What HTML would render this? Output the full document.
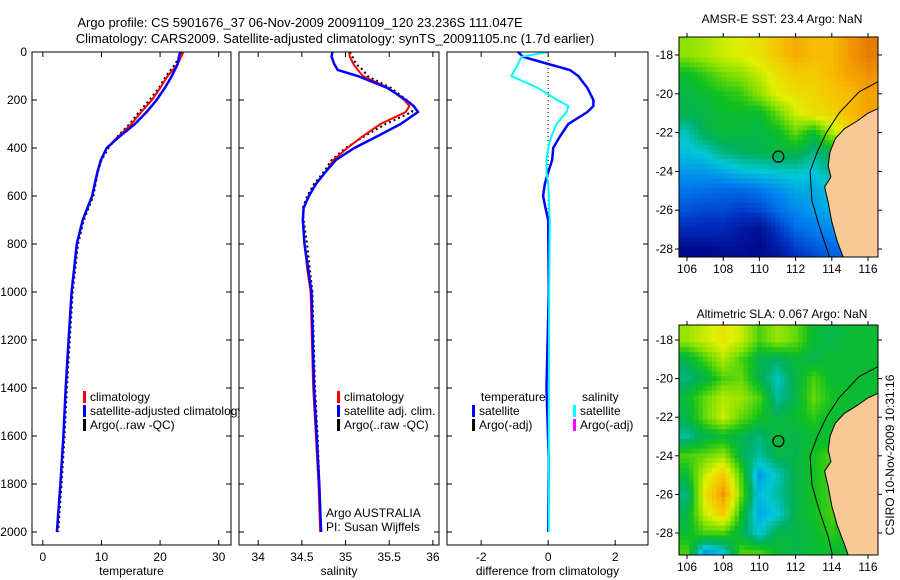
<!DOCTYPE html>
<html><head><meta charset="utf-8"><style>
body{margin:0;background:#fff;}
svg{display:block;font-family:"Liberation Sans",sans-serif;}
</style></head><body>
<svg id="fig" width="900" height="580" viewBox="0 0 900 580">
<rect width="900" height="580" fill="#fff"/>
<text x="300" y="27" font-size="13" text-anchor="middle">Argo profile: CS 5901676_37 06-Nov-2009 20091109_120 23.236S 111.047E</text>
<text x="335" y="43" font-size="13" text-anchor="middle">Climatology: CARS2009. Satellite-adjusted climatology: synTS_20091105.nc (1.7d earlier)</text>
<text x="782" y="23" font-size="12" text-anchor="middle">AMSR-E SST: 23.4 Argo: NaN</text>
<text x="782" y="318" font-size="12" text-anchor="middle">Altimetric SLA: 0.067 Argo: NaN</text>
<text x="894" y="455" font-size="12" text-anchor="middle" transform="rotate(-90 894 455)">CSIRO 10-Nov-2009 10:31:16</text>
<g id="panels"></g>
</svg>
<script>
// ---- profile data ----
const tDepth = [0,50,100,150,200,250,300,350,400,450,500,600,700,800,1000,1200,1400,1600,1800,2000];
const tClim  = [24.0,23.0,21.3,20.0,18.6,16.8,15.1,13.0,10.9,9.9,9.3,8.4,6.8,5.8,4.9,4.4,3.9,3.5,3.0,2.4];
const tSat   = [23.4,23.0,22.0,20.8,19.4,17.7,15.7,13.2,10.9,9.9,9.3,8.4,6.8,5.8,4.9,4.4,3.9,3.5,3.0,2.4];
const tArgo  = [23.6,22.6,21.0,19.8,18.2,16.4,14.8,12.8,11.2,10.0,9.4,8.6,7.0,6.0,5.1,4.6,4.1,3.7,3.2,2.6];
const sDepth = [0,20,50,75,100,150,200,225,250,300,350,400,450,500,550,600,650,700,800,900,1000,1400,1600,1800,2000];
const sClim  = [35.04,35.05,35.09,35.14,35.20,35.49,35.67,35.73,35.69,35.40,35.20,35.02,34.86,34.77,34.66,34.58,34.52,34.51,34.53,34.56,34.60,34.63,34.66,34.69,34.71];
const sSat   = [34.85,34.84,34.87,34.91,35.14,35.48,35.69,35.78,35.83,35.63,35.37,35.10,34.89,34.77,34.66,34.58,34.52,34.51,34.53,34.57,34.61,34.64,34.67,34.70,34.72];
const sArgo  = [35.05,35.08,35.12,35.20,35.25,35.52,35.70,35.78,35.76,35.46,35.22,35.00,34.84,34.75,34.64,34.56,34.51,34.52,34.56,34.59,34.62,34.65,34.68,34.70,34.72];
const dDepth = [0,20,50,75,100,150,200,225,250,300,350,400,450,500,550,600,650,700,1000,1400,1700,2000];
const dTemp  = [-0.9,-0.75,0.0,0.65,0.9,1.17,1.35,1.35,1.17,0.6,0.36,0.15,0.12,0.0,-0.1,-0.15,-0.08,0.0,0.02,-0.05,0.02,0.0];
const dSal   = [0.0,-0.8,-0.9,-1.0,-1.1,-0.3,0.27,0.6,0.55,0.25,0.1,0.0,-0.05,-0.05,0.0,0.02,0.03,0.05,0.03,0.02,0.02,0.02];
const tTicks = [0,10,20,30];
const sTicks = [34,34.5,35,35.5,36];
const dTicks = [-2,0,2];
const depthTicks = [0,200,400,600,800,1000,1200,1400,1600,1800,2000];
// ---- map data (rows lat -18..-29, cols lon 106..116) ----
const mapLats = [-18,-19,-20,-21,-22,-23,-24,-25,-26,-27,-28,-29];
const mapLons = [106,107,108,109,110,111,112,113,114,115,116];
const sstGrid = [
[23.8,24,24.3,24.5,24.8,25.3,25.8,25.5,25.5,26.2,26.8],
[22.8,23.2,23.6,23.8,24.2,24.8,25.2,25.2,25.5,26,26.3],
[22.6,22.8,23,23.2,23.8,24.5,24.8,25,25.3,25.5,26],
[22.5,22.6,22.8,22.8,22.8,23.5,24.3,24.8,25,25.5,26],
[21.8,22.5,22.7,22.7,22.6,22.8,23.5,22.8,24,25,25],
[21.5,21.7,22.2,22.4,22.5,22.6,22.6,22.2,22.5,22.5,22.5],
[21,21,21.2,21.5,21.6,21.7,21.8,21.6,22.2,22.5,22.5],
[20.5,20.4,20.3,20.3,20.5,20.8,21.2,21.2,21.5,21.5,21.5],
[20,19.8,19.8,19.6,19.8,20.4,20.8,21,21.3,21.3,21.3],
[19.2,19.2,19.2,18.8,18.5,19.5,20.3,20.6,20.8,20.8,20.8],
[18.3,18.3,18.5,18.5,18.3,18.8,19.6,20,20.3,20.3,20.3],
[18.2,18.2,18.2,18.2,18.3,18.5,19,19.5,20,20,20]];
const slaGrid = [
[0.06,0.08,0.1,0.08,0.03,0.06,0.04,0.0,-0.01,0,0],
[-0.01,0.03,0.07,0.03,-0.01,-0.02,0.0,-0.01,0,0,0],
[-0.03,-0.01,0.03,0.04,-0.01,-0.05,-0.01,0.03,0,0,0],
[0.0,0.04,0.07,0.06,0.03,-0.04,-0.01,0.04,0.01,0,0],
[-0.01,0.04,0.08,0.04,0.01,-0.01,0.0,0.02,0,0,0],
[-0.04,-0.01,0.0,-0.01,-0.03,0.0,-0.01,0.0,0,0,0],
[0.03,0.04,0.06,-0.01,-0.04,-0.01,-0.01,0.01,0.03,0,0],
[0.0,0.08,0.13,0.03,-0.09,-0.05,-0.01,0.01,0.03,0,0],
[-0.03,0.1,0.18,0.04,-0.07,-0.04,-0.01,0.01,0.03,0,0],
[-0.01,0.08,0.13,0.01,-0.08,-0.06,-0.01,0.01,0.03,0,0],
[0.0,0.03,0.03,-0.01,-0.06,-0.01,-0.01,0.0,0.02,0,0],
[0.03,-0.09,-0.06,0.03,0.03,0.0,-0.01,0.0,0,0,0]];
const coastLon = [116.7,116.0,115.4,114.7,114.2,113.9,113.8,113.95,113.6,113.8,114.0,114.3,114.7,115.0,116.7];
const coastLat = [-20.7,-21.0,-21.4,-21.8,-22.3,-23.0,-23.7,-24.3,-24.8,-25.6,-26.6,-27.6,-28.6,-29.4,-29.4];
const shelfLon = [116.7,115.5,114.4,113.7,113.2,112.8,112.9,113.3,113.8,114.1];
const shelfLat = [-19.3,-19.9,-21.0,-22.0,-23.0,-24.0,-25.5,-26.8,-28.2,-29.4];
const argoLon = 111.05, argoLat = -23.24;

const NS='http://www.w3.org/2000/svg';
const root=document.getElementById('panels');
function el(tag,attrs,parent){const e=document.createElementNS(NS,tag);for(const k in attrs)e.setAttribute(k,attrs[k]);(parent||root).appendChild(e);return e;}

const PT=52, PB=545;
const yD = d => PT + (d/2000)*480;

function panel(name,x0,x1,vmin,vmax,ticks,label,showDepth){
  const g=el('g',{});
  
  
  el('rect',{x:x0,y:PT,width:x1-x0,height:PB-PT,fill:'#fff'},g);
  const sx=v=>x0+(v-vmin)/(vmax-vmin)*(x1-x0);
  ticks.forEach(t=>{
    const x=sx(t);
    el('line',{x1:x,x2:x,y1:PB,y2:PB-5,stroke:'#000'},g);
    el('line',{x1:x,x2:x,y1:PT,y2:PT+5,stroke:'#000'},g);
    const tx=el('text',{x:x,y:561,'font-size':12,'text-anchor':'middle'},g);tx.textContent=String(t);
    
    
  });
  depthTicks.forEach(d=>{
    const y=yD(d);
    el('line',{x1:x0,x2:x0+5,y1:y,y2:y,stroke:'#000'},g);
    el('line',{x1:x1,x2:x1-5,y1:y,y2:y,stroke:'#000'},g);
    if(showDepth){const t=el('text',{x:27,y:y+4,'font-size':12,'text-anchor':'end'},g);t.textContent=String(d);
      
      }
  });
  const al=el('text',{x:(x0+x1)/2,y:575,'font-size':12,'text-anchor':'middle'},g);al.textContent=label;
  
  
  return {g,sx,x0,x1};
}
function line(p,vals,depths,color,w,dash,name){
  const pts=vals.map((v,i)=>p.sx(v).toFixed(1)+','+yD(depths[i]).toFixed(1)).join(' ');
  const l=el('polyline',{points:pts,fill:'none',stroke:color,'stroke-width':w},p.g);
  if(dash)l.setAttribute('stroke-dasharray',dash);
  
  
}
function border(p){el('rect',{x:p.x0,y:PT,width:p.x1-p.x0,height:PB-PT,fill:'none',stroke:'#000'},p.g);}
function legend(p,x,y,color,text,name){
  el('rect',{x:x,y:y-10,width:3,height:12,fill:color},p.g);
  const t=el('text',{x:x+7,y:y,'font-size':12},p.g);t.textContent=text;
  
  
}

const p1=panel('temperature-panel',32,231,-1.85,32.1,tTicks,'temperature',true);
line(p1,tArgo,tDepth,'#000',2,'2,3','argo-temperature-line');
line(p1,tClim,tDepth,'#f00',2,null,'climatology-temperature-line');
line(p1,tSat,tDepth,'#00f',2.5,null,'satellite-temperature-line');
border(p1);
legend(p1,83,401,'#f00','climatology','legend-climatology');
legend(p1,83,415,'#00f','satellite-adjusted climatology','legend-satellite');
legend(p1,83,429,'#000','Argo(..raw -QC)','legend-argo');

const p2=panel('salinity-panel',239,439,33.78,36.07,sTicks,'salinity',false);
line(p2,sArgo,sDepth,'#000',2,'2,3','argo-salinity-line');
line(p2,sClim,sDepth,'#f00',2,null,'climatology-salinity-line');
line(p2,sSat,sDepth,'#00f',2.5,null,'satellite-salinity-line');
border(p2);
legend(p2,337,401,'#f00','climatology','legend-climatology-sal');
legend(p2,337,415,'#00f','satellite adj. clim.','legend-satellite-sal');
legend(p2,337,429,'#000','Argo(..raw -QC)','legend-argo-sal');
let t=el('text',{x:326,y:517,'font-size':12},p2.g);t.textContent='Argo AUSTRALIA';


t=el('text',{x:326,y:531,'font-size':12},p2.g);t.textContent='PI: Susan Wijffels';



const p3=panel('difference-panel',447,648,-3.02,2.98,dTicks,'difference from climatology',false);
el('line',{x1:p3.sx(0),x2:p3.sx(0),y1:PT,y2:yD(700),stroke:'#000','stroke-dasharray':'1,3'},p3.g);
line(p3,dTemp,dDepth,'#00f',2.5,null,'temperature-difference-line');
line(p3,dSal,dDepth,'#0ff',2,null,'salinity-difference-line');
border(p3);
t=el('text',{x:481,y:401,'font-size':12},p3.g);t.textContent='temperature';


t=el('text',{x:582,y:401,'font-size':12},p3.g);t.textContent='salinity';


legend(p3,472,415,'#00f','satellite','legend-temp-satellite');
legend(p3,472,429,'#000','Argo(-adj)','legend-temp-argo');
legend(p3,573,415,'#0ff','satellite','legend-sal-satellite');
legend(p3,573,429,'#f0f','Argo(-adj)','legend-sal-argo');

// ---- maps ----
const cmapStops=[[0,[0,0,128]],[0.15,[0,48,192]],[0.28,[0,128,240]],[0.38,[0,200,216]],[0.46,[0,176,96]],[0.52,[16,192,32]],[0.6,[128,224,0]],[0.68,[224,240,0]],[0.78,[248,192,0]],[0.88,[240,144,0]],[1,[208,96,0]]];
function cmap(f){f=Math.max(0,Math.min(1,f));for(let i=1;i<cmapStops.length;i++){if(f<=cmapStops[i][0]){const a=cmapStops[i-1],b=cmapStops[i];const u=(f-a[0])/(b[0]-a[0]);const c=a[1].map((v,k)=>Math.round(v+u*(b[1][k]-v)));return 'rgb('+c.join(',')+')';}}return 'rgb(208,96,0)';}
function sample(grid,fi,fj){
  fi=Math.max(0,Math.min(grid.length-1,fi));fj=Math.max(0,Math.min(grid[0].length-1,fj));
  const i0=Math.floor(fi),j0=Math.floor(fj),i1=Math.min(i0+1,grid.length-1),j1=Math.min(j0+1,grid[0].length-1);
  const u=fi-i0,v=fj-j0;
  return (grid[i0][j0]*(1-v)+grid[i0][j1]*v)*(1-u)+(grid[i1][j0]*(1-v)+grid[i1][j1]*v)*u;
}

function map(name,top,bottom,lat18y,lat28y,grid,vmin,vmax){
  const x0=679,x1=878;
  const g=el('g',{});
  
  
  const sx=lon=>687+(lon-106)*18.1;
  const sy=lat=>lat18y+(-18-lat)*(lat28y-lat18y)/10;
  const cid='clip-'+name;
  const cp=el('clipPath',{id:cid},g);el('rect',{x:x0,y:top,width:x1-x0,height:bottom-top},cp);
  const inner=el('g',{'clip-path':'url(#'+cid+')'},g);
  el('rect',{x:x0,y:top,width:x1-x0,height:bottom-top,fill:'#fff'},inner);
  const sub=4, step=1/sub;
  const cw=18.1*step, ch=(lat28y-lat18y)/10*step;
  for(let fi=-1;fi<=grid.length-1+0.001;fi+=step){
    for(let fj=-0.5;fj<=grid[0].length-0.5+0.001;fj+=step){
      const v=sample(grid,fi,fj);
      const lon=mapLons[0]+fj, lat=mapLats[0]-fi;
      const c=el('rect',{x:(sx(lon)-cw/2).toFixed(2),y:(sy(lat)-ch/2).toFixed(2),width:(cw+0.5).toFixed(2),height:(ch+0.5).toFixed(2),fill:cmap((v-vmin)/(vmax-vmin))},inner);
      
      
    }
  }
  const cpts=coastLon.map((lon,i)=>sx(lon).toFixed(1)+','+sy(coastLat[i]).toFixed(1)).join(' ');
  const land=el('polygon',{points:cpts,fill:'#f9c896',stroke:'#000','stroke-width':1},inner);
  
  
  const spts=shelfLon.map((lon,i)=>sx(lon).toFixed(1)+','+sy(shelfLat[i]).toFixed(1)).join(' ');
  const sh=el('polyline',{points:spts,fill:'none',stroke:'#000','stroke-width':1},inner);
  
  
  const c=el('circle',{cx:sx(argoLon),cy:sy(argoLat),r:5.5,fill:'none',stroke:'#000','stroke-width':1.2},g);
  
  
  el('rect',{x:x0,y:top,width:x1-x0,height:bottom-top,fill:'none',stroke:'#000'},g);
  [106,108,110,112,114,116].forEach(lon=>{
    const x=sx(lon);
    el('line',{x1:x,x2:x,y1:bottom,y2:bottom+4,stroke:'#000'},g);
    el('line',{x1:x,x2:x,y1:top,y2:top-4,stroke:'#000'},g);
    const tt=el('text',{x:x,y:bottom+16,'font-size':12,'text-anchor':'middle'},g);tt.textContent=String(lon);
    
    
  });
  [-18,-20,-22,-24,-26,-28].forEach(lat=>{
    const y=sy(lat);
    el('line',{x1:x0,x2:x0-4,y1:y,y2:y,stroke:'#000'},g);
    el('line',{x1:x1,x2:x1+4,y1:y,y2:y,stroke:'#000'},g);
    const tt=el('text',{x:x0-6,y:y+4,'font-size':12,'text-anchor':'end'},g);tt.textContent=String(lat);
    
    
  });
}
map('sst-map',37,257,55,249,sstGrid,18,27.5);
map('sla-map',325,555,340,533,slaGrid,-0.25,0.25);
</script>
</body></html>
